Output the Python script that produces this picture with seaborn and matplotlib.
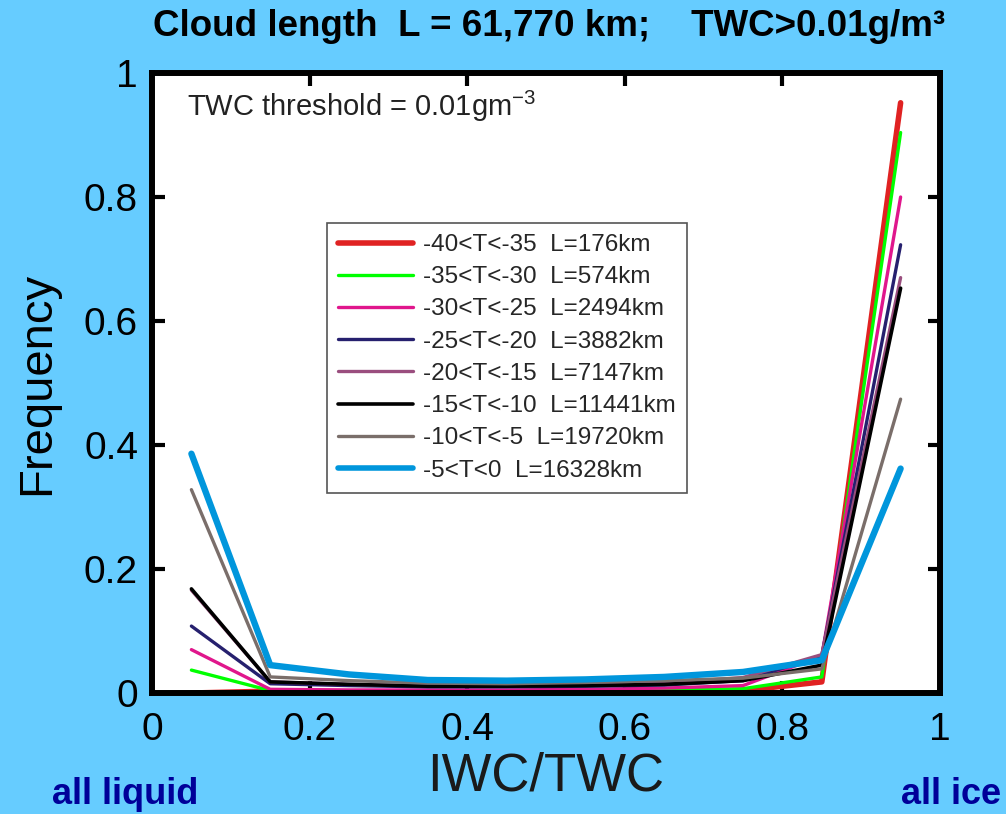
import numpy as np
import pandas as pd
import matplotlib
matplotlib.use("Agg")
import matplotlib.pyplot as plt
import seaborn as sns

# IWC/TWC bin centres
ice_fraction = [0.05, 0.15, 0.25, 0.35, 0.45, 0.55, 0.65, 0.75, 0.85, 0.95]

# Frequency per temperature band
freq_m40_m35 = [0.000, 0.003, 0.002, 0.001, 0.001, 0.002, 0.002, 0.004, 0.018, 0.952]
freq_m35_m30 = [0.037, 0.004, 0.003, 0.003, 0.003, 0.004, 0.005, 0.007, 0.026, 0.904]
freq_m30_m25 = [0.070, 0.006, 0.005, 0.005, 0.005, 0.006, 0.008, 0.012, 0.060, 0.800]
freq_m25_m20 = [0.108, 0.015, 0.012, 0.010, 0.010, 0.011, 0.013, 0.020, 0.060, 0.723]
freq_m20_m15 = [0.166, 0.018, 0.014, 0.012, 0.012, 0.013, 0.016, 0.025, 0.062, 0.670]
freq_m15_m10 = [0.168, 0.018, 0.014, 0.011, 0.011, 0.012, 0.014, 0.020, 0.045, 0.653]
freq_m10_m5 = [0.328, 0.026, 0.020, 0.016, 0.015, 0.017, 0.020, 0.024, 0.039, 0.474]
freq_m5_0 = [0.386, 0.045, 0.030, 0.021, 0.020, 0.022, 0.026, 0.034, 0.053, 0.362]

series_labels = [
    "-40<T<-35  L=176km",
    "-35<T<-30  L=574km",
    "-30<T<-25  L=2494km",
    "-25<T<-20  L=3882km",
    "-20<T<-15  L=7147km",
    "-15<T<-10  L=11441km",
    "-10<T<-5  L=19720km",
    "-5<T<0  L=16328km",
]
series_values = [freq_m40_m35, freq_m35_m30, freq_m30_m25, freq_m25_m20,
                 freq_m20_m15, freq_m15_m10, freq_m10_m5, freq_m5_0]
series_colors = ["#e02222", "#00ff00", "#e0168c", "#26206e",
                 "#9a4e7e", "#000000", "#7a6e6a", "#0096dc"]
series_widths = [4.0, 2.4, 2.4, 2.4, 2.4, 2.6, 2.4, 4.6]
legend_widths = [4.0, 2.4, 2.4, 2.4, 2.4, 2.6, 2.4, 4.0]

x_ticks = [0, 0.2, 0.4, 0.6, 0.8, 1]
y_ticks = [0, 0.2, 0.4, 0.6, 0.8, 1]
x_tick_labels = ["0", "0.2", "0.4", "0.6", "0.8", "1"]
y_tick_labels = ["0", "0.2", "0.4", "0.6", "0.8", "1"]

sns.set_theme(style="ticks")
plt.rcParams["font.family"] = ["Liberation Sans", "DejaVu Sans"]
plt.rcParams["mathtext.fontset"] = "custom"
plt.rcParams["mathtext.rm"] = "Liberation Sans"
plt.rcParams["mathtext.bf"] = "Liberation Sans:bold"

bg = "#66ccff"
fig = plt.figure(figsize=(10.06, 8.14), dpi=100, facecolor=bg)
ax = fig.add_axes([0.1511, 0.1486, 0.7833, 0.7617])
ax.set_facecolor("white")

df = pd.DataFrame({
    "ice_fraction": np.tile(ice_fraction, len(series_labels)),
    "frequency": np.concatenate(series_values),
    "band": np.repeat(series_labels, len(ice_fraction)),
})

for label, color, lw in zip(series_labels, series_colors, series_widths):
    sub = df[df["band"] == label]
    sns.lineplot(data=sub, x="ice_fraction", y="frequency", ax=ax,
                 color=color, linewidth=lw, label=label, sort=False,
                 estimator=None)

ax.set_xlim(0, 1)
ax.set_ylim(0, 1)
ax.set_xticks(x_ticks)
ax.set_xticklabels(x_tick_labels)
ax.set_yticks(y_ticks)
ax.set_yticklabels(y_tick_labels)
ax.tick_params(axis="both", which="major", direction="in", length=9, width=3,
               top=True, right=True, labelsize=28, colors="black", pad=14)
ax.tick_params(axis="y", pad=10)
for s in ax.spines.values():
    s.set_linewidth(4.3)
    s.set_color("black")
    s.set_visible(True)
    s.set_zorder(5)

ax.set_xlabel("IWC/TWC", fontsize=38, color="#1a1a1a", labelpad=2)
ax.set_ylabel("Frequency", fontsize=34, color="black", labelpad=18)

leg = ax.legend(loc="upper left", bbox_to_anchor=(0.222, 0.758),
                borderaxespad=0, frameon=True, fancybox=False,
                fontsize=17.5, handlelength=3.1, labelspacing=0.42,
                handletextpad=0.4, borderpad=0.45)
leg.get_frame().set_edgecolor("#555555")
leg.get_frame().set_linewidth(1.2)
leg.get_frame().set_facecolor("white")
leg.get_frame().set_alpha(1)
for h, lw in zip(leg.get_lines(), legend_widths):
    h.set_linewidth(lw)

ax.text(0.045, 0.975, r"TWC threshold = 0.01gm$^{-3}$", transform=ax.transAxes,
        fontsize=21, color="#222222", ha="left", va="top")

fig.text(0.546, 0.968, "Cloud length  L = 61,770 km;    TWC>0.01g/m³",
         fontweight="bold", fontsize=26.5, color="black",
         ha="center", va="center")

fig.text(0.052, 0.024, "all liquid", fontsize=26, fontweight="bold",
         color="#000099", ha="left", va="center")
fig.text(0.995, 0.024, "all ice", fontsize=26, fontweight="bold",
         color="#000099", ha="right", va="center")

fig.savefig("out.png", dpi=100, facecolor=bg)
